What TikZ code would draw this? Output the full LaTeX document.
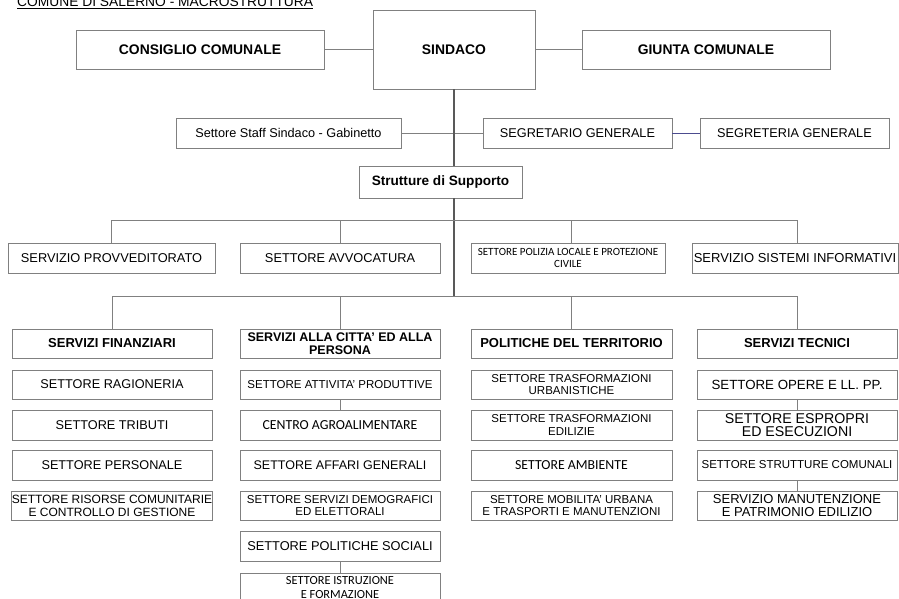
\documentclass[tikz,border=0pt]{standalone}
\usepackage{fontspec}
\setmainfont{Liberation Sans}
\newfontfamily\carl{Carlito}
\begin{document}
\begin{tikzpicture}[x=1pt,y=-1pt,
  box/.style={draw=black!50,line width=0.8pt,inner sep=0pt,align=center,fill=white,font=\fontsize{12.7}{14}\selectfont},
  head/.style={box,font=\bfseries\fontsize{13}{14}\selectfont},
  two/.style={box,font=\fontsize{11.5}{12.8}\selectfont},
  cal/.style={box,font=\carl\fontsize{13.8}{14}\selectfont},
  ln/.style={draw=black!50,line width=0.8pt},
  trunk/.style={draw=black!65,line width=1.6pt}]
\useasboundingbox (0,0) rectangle (899,599);
\fill[white] (0,0) rectangle (899,599);
% title
\node[anchor=base west,inner sep=0pt,font=\fontsize{13.8}{14}\selectfont] (title) at (17,6.5) {\underline{COMUNE DI SALERNO - MACROSTRUTTURA}};
% top row
\node[head,minimum width=248pt,minimum height=39pt,font=\bfseries\fontsize{13.9}{15}\selectfont] (cons) at (200,49.5) {CONSIGLIO COMUNALE};
\node[head,minimum width=162pt,minimum height=79pt,font=\bfseries\fontsize{13.9}{15}\selectfont] (sind) at (454,49.5) {SINDACO};
\node[head,minimum width=248pt,minimum height=39pt,font=\bfseries\fontsize{13.9}{15}\selectfont] (giunta) at (706,49.5) {GIUNTA COMUNALE};
% staff row
\node[box,minimum width=225pt,minimum height=30pt] (staff) at (288.5,133) {Settore Staff Sindaco - Gabinetto};
\node[box,minimum width=189pt,minimum height=30pt] (segr) at (577.5,133) {SEGRETARIO GENERALE};
\node[box,minimum width=189pt,minimum height=30pt] (segre) at (794.5,133) {SEGRETERIA GENERALE};
\node[head,minimum width=163pt,minimum height=32pt,font=\bfseries\fontsize{13.6}{15}\selectfont] (strut) at (440.5,182) {Strutture di Supporto};
% support row
\node[box,minimum width=207pt,minimum height=30pt,font=\fontsize{12.8}{14}\selectfont] (prov) at (111.5,258) {SERVIZIO PROVVEDITORATO};
\node[box,minimum width=200pt,minimum height=30pt,font=\fontsize{12.8}{14}\selectfont] (avv) at (340,258) {SETTORE AVVOCATURA};
\node[box,minimum width=194pt,minimum height=30pt,font=\carl\fontsize{11}{12.5}\selectfont] (pol) at (568,258) {SETTORE POLIZIA LOCALE E PROTEZIONE\\CIVILE};
\node[box,minimum width=206pt,minimum height=30pt,font=\fontsize{13}{14}\selectfont] (sist) at (795,258) {SERVIZIO SISTEMI INFORMATIVI};
% heads
\node[head,minimum width=200pt,minimum height=29pt] (fin) at (112,343.5) {SERVIZI FINANZIARI};
\node[head,minimum width=200pt,minimum height=29pt,font=\bfseries\fontsize{12.5}{13}\selectfont] (citta) at (340,343.5) {SERVIZI ALLA CITTA' ED ALLA\\PERSONA};
\node[head,minimum width=201pt,minimum height=29pt] (terr) at (571.5,343.5) {POLITICHE DEL TERRITORIO};
\node[head,minimum width=200pt,minimum height=29pt] (tecn) at (797,343.5) {SERVIZI TECNICI};
% column 1
\node[box,minimum width=200pt,minimum height=29pt] (c1a) at (112,384.5) {SETTORE RAGIONERIA};
\node[box,minimum width=200pt,minimum height=30pt] (c1b) at (112,425) {SETTORE TRIBUTI};
\node[box,minimum width=200pt,minimum height=30pt] (c1c) at (112,465) {SETTORE PERSONALE};
\node[two,minimum width=200pt,minimum height=29pt,font=\fontsize{12}{12.8}\selectfont] (c1d) at (112,505.5) {SETTORE RISORSE COMUNITARIE\\E CONTROLLO DI GESTIONE};
% column 2
\node[box,minimum width=200pt,minimum height=29pt,font=\fontsize{11.5}{13}\selectfont] (c2a) at (340,384.5) {SETTORE ATTIVITA' PRODUTTIVE};
\node[cal,minimum width=200pt,minimum height=30pt] (c2b) at (340,425) {CENTRO AGROALIMENTARE};
\node[box,minimum width=200pt,minimum height=30pt,font=\fontsize{12.5}{14}\selectfont] (c2c) at (340,465) {SETTORE AFFARI GENERALI};
\node[two,minimum width=200pt,minimum height=29pt] (c2d) at (340,505.5) {SETTORE SERVIZI DEMOGRAFICI\\ED ELETTORALI};
\node[box,minimum width=200pt,minimum height=30pt,font=\fontsize{12.8}{14}\selectfont] (c2e) at (340,546) {SETTORE POLITICHE SOCIALI};
\node[cal,minimum width=200pt,minimum height=30pt,font=\carl\fontsize{12.4}{14}\selectfont] (c2f) at (340,588) {SETTORE ISTRUZIONE\\E FORMAZIONE};
% column 3
\node[two,minimum width=201pt,minimum height=29pt] (c3a) at (571.5,384.5) {SETTORE TRASFORMAZIONI\\URBANISTICHE};
\node[two,minimum width=201pt,minimum height=30pt] (c3b) at (571.5,425) {SETTORE TRASFORMAZIONI\\EDILIZIE};
\node[cal,minimum width=201pt,minimum height=30pt] (c3c) at (571.5,465) {SETTORE AMBIENTE};
\node[two,minimum width=201pt,minimum height=29pt] (c3d) at (571.5,505.5) {SETTORE MOBILITA' URBANA\\E TRASPORTI E MANUTENZIONI};
% column 4
\node[box,minimum width=200pt,minimum height=29pt,font=\fontsize{13.3}{14}\selectfont] (c4a) at (797,384.5) {SETTORE OPERE E LL. PP.};
\node[box,minimum width=200pt,minimum height=30pt,font=\fontsize{14.2}{13.5}\selectfont] (c4b) at (797,425) {SETTORE ESPROPRI\\ED ESECUZIONI};
\node[box,minimum width=200pt,minimum height=30pt,font=\fontsize{11.5}{13}\selectfont] (c4c) at (797,465) {SETTORE STRUTTURE COMUNALI};
\node[box,minimum width=200pt,minimum height=29pt,font=\fontsize{13}{13.5}\selectfont] (c4d) at (797,505.5) {SERVIZIO MANUTENZIONE\\E PATRIMONIO EDILIZIO};
% coordinates of buses
\coordinate (b1) at (454,220);
\coordinate (b2) at (454,296);
% connectors top
\draw[ln] (cons.east) -- (sind.west);
\draw[ln] (sind.east) -- (giunta.west);
\draw[ln] (staff.east) -- (staff.east -| sind.south);
\draw[ln] (segr.west) -- (segr.west -| sind.south);
\draw[ln,draw=black!35!blue!40!gray] (segr.east) -- (segre.west);
\draw[trunk] (sind.south) -- (sind.south |- strut.north);
\draw[trunk] (sind.south |- strut.south) -- (b2);
% bus 1
\draw[ln] (prov.north) -- (prov.north |- b1) -- ([xshift=2pt]sist.north |- b1) -- ([xshift=2pt]sist.north);
\draw[ln] (avv.north) -- (avv.north |- b1);
\draw[ln] ([xshift=3pt]pol.north) -- ([xshift=3pt]pol.north |- b1);
% bus 2
\draw[ln] (fin.north) -- (fin.north |- b2) -- (tecn.north |- b2) -- (tecn.north);
\draw[ln] (citta.north) -- (citta.north |- b2);
\draw[ln] (terr.north) -- (terr.north |- b2);
% column links
\draw[ln] (c2a.south) -- (c2b.north);
\draw[ln] (c2e.south) -- (c2f.north);
\draw[ln] (c4a.south) -- (c4b.north);
\draw[ln] (c4c.south) -- (c4d.north);
\end{tikzpicture}
\end{document}
